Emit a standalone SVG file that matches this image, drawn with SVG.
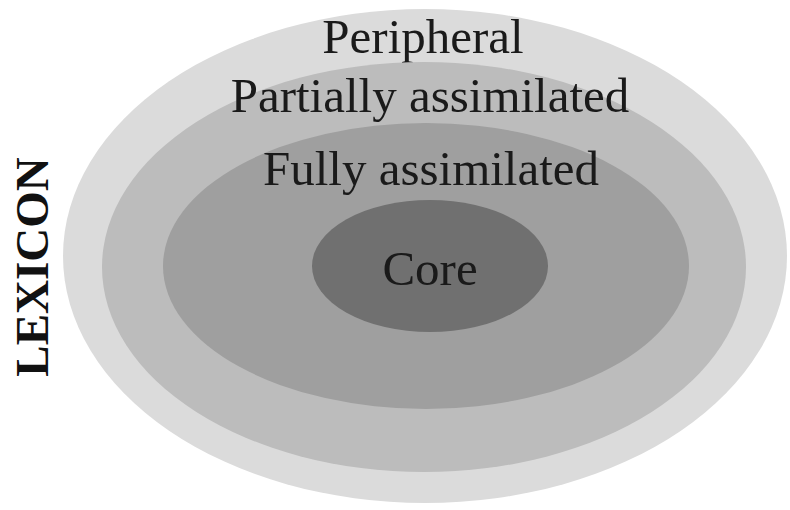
<svg xmlns="http://www.w3.org/2000/svg" width="790" height="510" viewBox="0 0 790 510">
  <style>
    .lbl { font-family: "Liberation Serif", "Times New Roman", serif; font-size: 49px; fill: #1a1a1a; text-anchor: middle; }
    .side { font-family: "Liberation Serif", "Times New Roman", serif; font-size: 47px; font-weight: bold; fill: #111; text-anchor: middle; }
  </style>
  <rect width="790" height="510" fill="#ffffff"/>
  <g id="peripheral">
    <ellipse cx="425" cy="256" rx="362" ry="247" fill="#dbdbdb"/>
    <text class="lbl" x="423" y="53">Peripheral</text>
  </g>
  <g id="partially-assimilated">
    <ellipse cx="424" cy="267" rx="322" ry="205" fill="#bcbcbc"/>
    <text class="lbl" x="430" y="112">Partially assimilated</text>
  </g>
  <g id="fully-assimilated">
    <ellipse cx="426" cy="266" rx="263" ry="143" fill="#9f9f9f"/>
    <text class="lbl" x="431" y="185">Fully assimilated</text>
  </g>
  <g id="core">
    <ellipse cx="430" cy="266" rx="118" ry="66" fill="#707070"/>
    <text class="lbl" x="430" y="285">Core</text>
  </g>
  <g id="lexicon">
    <text class="side" transform="translate(48,267) rotate(-90)">LEXICON</text>
  </g>
  <g id="connectors"/>
</svg>
